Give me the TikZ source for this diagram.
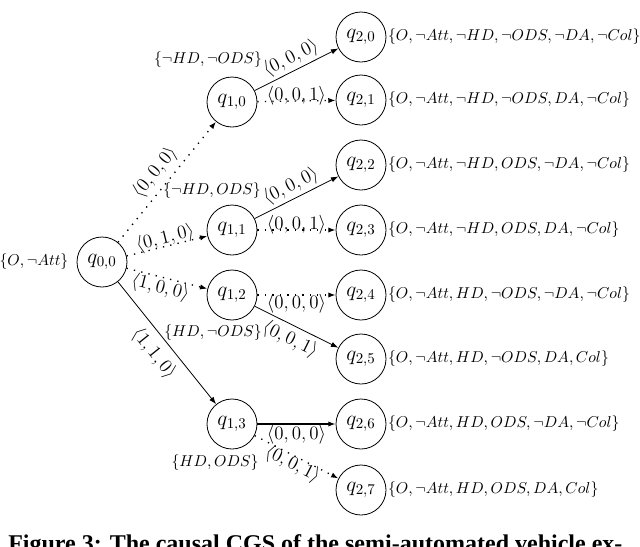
\RequirePackage{fix-cm}
\documentclass[tikz,border=0pt]{standalone}
\usepackage{fontspec}
\newfontfamily\capfont{Liberation Serif}
\usetikzlibrary{arrows.meta}
\tikzset{
  st/.style={circle, draw, line width=0.6pt, minimum size=37.5pt, inner sep=0pt, font=\fontsize{16}{18}\selectfont},
  setlab/.style={inner sep=1pt, font=\fontsize{11.8}{14}\selectfont},
  elab/.style={font=\fontsize{14.2}{16}\selectfont, inner sep=1pt, sloped},
  tr/.style={-{Latex[length=5.5pt,width=4pt]}, line width=0.6pt},
  dtr/.style={tr, line width=1pt, dash pattern=on 1pt off 4.6pt},
  ttr/.style={tr, line width=1.6pt},
}
\begin{document}
\begin{tikzpicture}[x=0.75pt, y=-0.75pt]
\useasboundingbox (0,0) rectangle (640,547);
% states
\node[st] (q00) at (102,262) {$q_{0,0}$};
\node[st] (q10) at (232,102) {$q_{1,0}$};
\node[st] (q11) at (232,230) {$q_{1,1}$};
\node[st] (q12) at (232,295) {$q_{1,2}$};
\node[st] (q13) at (232,424) {$q_{1,3}$};
\node[st] (q20) at (361,37) {$q_{2,0}$};
\node[st] (q21) at (361,100) {$q_{2,1}$};
\node[st] (q22) at (361,165) {$q_{2,2}$};
\node[st] (q23) at (361,230) {$q_{2,3}$};
\node[st] (q24) at (361,295) {$q_{2,4}$};
\node[st] (q25) at (361,359) {$q_{2,5}$};
\node[st] (q26) at (361,424) {$q_{2,6}$};
\node[st] (q27) at (361,490) {$q_{2,7}$};
% state labels
\node[setlab, anchor=east] (s00) at ([xshift=-5pt]q00.west) {$\{O,\neg Att\}$};
\node[setlab] (s10) at (208,60) {$\{\neg HD,\neg ODS\}$};
\node[setlab] (s11) at (212,191) {$\{\neg HD, ODS\}$};
\node[setlab] (s12) at (213,333) {$\{HD,\neg ODS\}$};
\node[setlab] (s13) at (215,463) {$\{HD, ODS\}$};
\node[setlab, anchor=west] (s20) at (q20.east) {$\{O,\neg Att,\neg HD,\neg ODS,\neg DA,\neg Col\}$};
\node[setlab, anchor=west] (s21) at (q21.east) {$\{O,\neg Att,\neg HD,\neg ODS, DA,\neg Col\}$};
\node[setlab, anchor=west] (s22) at (q22.east) {$\{O,\neg Att,\neg HD, ODS,\neg DA,\neg Col\}$};
\node[setlab, anchor=west] (s23) at (q23.east) {$\{O,\neg Att,\neg HD, ODS, DA,\neg Col\}$};
\node[setlab, anchor=west] (s24) at (q24.east) {$\{O,\neg Att, HD,\neg ODS,\neg DA,\neg Col\}$};
\node[setlab, anchor=west] (s25) at (q25.east) {$\{O,\neg Att, HD,\neg ODS, DA, Col\}$};
\node[setlab, anchor=west] (s26) at (q26.east) {$\{O,\neg Att, HD, ODS,\neg DA,\neg Col\}$};
\node[setlab, anchor=west] (s27) at (q27.east) {$\{O,\neg Att, HD, ODS, DA, Col\}$};
% transitions
\draw[dtr] (q00) -- node[elab, above=2.9pt] {$\langle 0,0,0\rangle$} (q10);
\draw[dtr] (q00) -- node[elab, above=-2.7pt] {$\langle 0,1,0\rangle$} (q11);
\draw[dtr] (q00) -- node[elab, below=-0.7pt, pos=0.45] {$\langle 1,0,0\rangle$} (q12);
\draw[tr] (q00) -- node[elab, below=4.3pt] {$\langle 1,1,0\rangle$} (q13);
\draw[tr] (q10) -- node[elab, above=0.9pt] {$\langle 0,0,0\rangle$} (q20);
\draw[dtr] (q10) -- node[elab, above=-4.7pt] {$\langle 0,0,1\rangle$} (q21);
\draw[tr] (q11) -- node[elab, above=0.9pt] {$\langle 0,0,0\rangle$} (q22);
\draw[dtr] (q11) -- node[elab, above=-4.7pt] {$\langle 0,0,1\rangle$} (q23);
\draw[dtr] (q12) -- node[elab, below=-1.7pt] {$\langle 0,0,0\rangle$} (q24);
\draw[tr] (q12) -- node[elab, below=2.3pt] {$\langle 0,0,1\rangle$} (q25);
\draw[ttr] (q13) -- node[elab, below=-0.7pt] {$\langle 0,0,0\rangle$} (q26);
\draw[dtr] (q13) -- node[elab, below=-2.2pt] {$\langle 0,0,1\rangle$} (q27);
% caption (cut off at the bottom edge)
\node[anchor=base west, inner sep=0pt, font=\capfont\bfseries\fontsize{18}{21}\selectfont] (cap) at (8,551) {Figure 3: The causal CGS of the semi-automated vehicle ex-};
\end{tikzpicture}
\end{document}
